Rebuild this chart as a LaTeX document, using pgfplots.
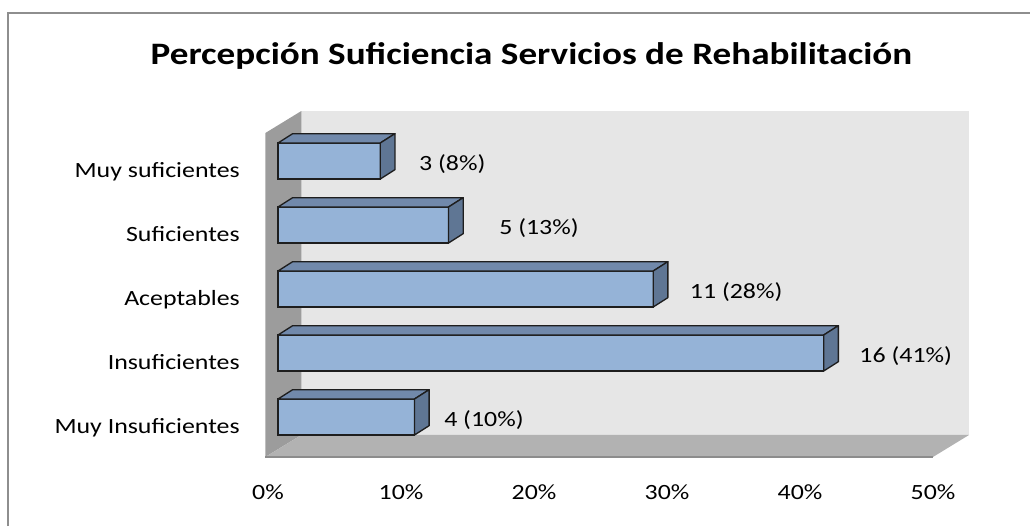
\documentclass[border=0pt]{standalone}
\usepackage{pgfplots}
\pgfplotsset{compat=1.18}
\usepackage{pgfplotstable}
\usepackage{graphicx}
\usepackage{fontspec}
\setmainfont{Carlito}
\definecolor{barfront}{HTML}{95B3D7}
\definecolor{bartop}{HTML}{7189AB}
\definecolor{barside}{HTML}{5F7694}
\definecolor{baredge}{HTML}{1E1E1E}
\definecolor{backwall}{HTML}{E6E6E6}
\definecolor{sidewall}{HTML}{9C9C9C}
\definecolor{floorc}{HTML}{B2B2B2}
\definecolor{framec}{HTML}{8E8E8E}
\newcommand{\sx}[1]{\scalebox{1.19}[1]{#1}}

% cat: 0 = Muy Insuficientes ... 4 = Muy suficientes; val in percent
\pgfplotstableread[col sep=comma]{
cat,val,n,pct,off
0,10.26,4,10,79.5
1,41.03,16,41,92
2,28.21,11,28,93
3,12.82,5,13,100.5
4,7.69,3,8,82
}\datatable

\pgfdeclareplotmark{bar3d}{%
  \pgfmathsetlengthmacro\bL{7.5pt-\barval*9.975pt}%
  \pgfmathsetlengthmacro\bLt{18.5pt-\barval*9.975pt}%
  \pgfsetlinewidth{1pt}\pgfsetstrokecolor{baredge}\pgfsetroundjoin
  \pgfpathmoveto{\pgfpoint{\bL}{20.25pt}}%
  \pgfpathlineto{\pgfpoint{7.5pt}{20.25pt}}%
  \pgfpathlineto{\pgfpoint{18.5pt}{27.25pt}}%
  \pgfpathlineto{\pgfpoint{\bLt}{27.25pt}}%
  \pgfpathclose
  \pgfsetfillcolor{bartop}\pgfusepath{fill,stroke}%
  \pgfpathmoveto{\pgfpoint{7.5pt}{20.25pt}}%
  \pgfpathlineto{\pgfpoint{18.5pt}{27.25pt}}%
  \pgfpathlineto{\pgfpoint{18.5pt}{0.25pt}}%
  \pgfpathlineto{\pgfpoint{7.5pt}{-6.75pt}}%
  \pgfpathclose
  \pgfsetfillcolor{barside}\pgfusepath{fill,stroke}%
}

\begin{document}
\begin{tikzpicture}
\useasboundingbox (0,0) rectangle (772.5pt,394.5pt);
\draw[color=framec, line width=1.5pt] (6pt,0) -- (6pt,384.75pt) -- (772.5pt,384.75pt);
\node[anchor=base, inner sep=0pt, font=\fontsize{23.4}{28}\selectfont\bfseries] at (398.6pt,345.75pt)
  {\sx{Percepción Suficiencia Servicios de Rehabilitación}};
\begin{axis}[
  anchor=origin, at={(201pt,75pt)}, disabledatascaling,
  x=9.975pt, y=48pt,
  xmin=-0.2, xmax=50, ymin=-0.484, ymax=4.578,
  clip=false,
  axis line style={draw=none},
  major tick length=0pt, tick style={draw=none},
  xtick={0,10,20,30,40,50},
  xticklabels={\sx{0\%},\sx{10\%},\sx{20\%},\sx{30\%},\sx{40\%},\sx{50\%}},
  ytick={0,1,2,3,4},
  yticklabels={\sx{Muy Insuficientes},\sx{Insuficientes},\sx{Aceptables},\sx{Suficientes},\sx{Muy suficientes}},
  tick label style={font=\fontsize{16.3}{19}\selectfont, text=black},
  xticklabel style={anchor=base, inner sep=0pt, yshift=-32.25pt},
  yticklabel style={anchor=east, inner sep=0pt, xshift=-19pt, yshift=-3pt, text height=0.7em, text depth=0.2em},
]
\coordinate (BL) at (axis cs:-0.2,-0.484);
\coordinate (TL) at (axis cs:-0.2,4.578);
\coordinate (BR) at (axis cs:50,-0.484);
\coordinate (TR) at (axis cs:50,4.578);
\fill[backwall] ([shift={(27pt,16.5pt)}]BL) rectangle ([shift={(27pt,16.5pt)}]TR);
\fill[sidewall] (BL) -- (TL) -- ([shift={(27pt,16.5pt)}]TL) -- ([shift={(27pt,16.5pt)}]BL) -- cycle;
\fill[floorc] (BL) -- (BR) -- ([shift={(27pt,16.5pt)}]BR) -- ([shift={(27pt,16.5pt)}]BL) -- cycle;
\draw[black!45, line width=0.8pt] (BL) -- (BR);

\addplot[xbar, bar width=27pt, bar shift=6.75pt, xshift=7.5pt,
  fill=barfront, draw=baredge, line width=1pt]
  table[x=val,y=cat]{\datatable};

\addplot[scatter, only marks, mark=bar3d, point meta=x,
  visualization depends on={\thisrow{val} \as \barval}]
  table[x=val,y=cat]{\datatable};

\addplot[draw=none, mark=none, point meta=x,
  visualization depends on={\thisrow{n} \as \cnt},
  visualization depends on={\thisrow{pct} \as \pc},
  visualization depends on={\thisrow{off} \as \off},
  nodes near coords={\sx{\pgfmathprintnumber[fixed,precision=0,assume math mode=true]{\cnt} (\pgfmathprintnumber[fixed,precision=0,assume math mode=true]{\pc}\%)}},
  nodes near coords style={anchor=base, inner sep=0pt, xshift={\off*0.75pt}, yshift=-0.5pt,
    font=\fontsize{16.3}{19}\selectfont, text=black}]
  table[x=val,y=cat]{\datatable};
\end{axis}
\end{tikzpicture}
\end{document}
